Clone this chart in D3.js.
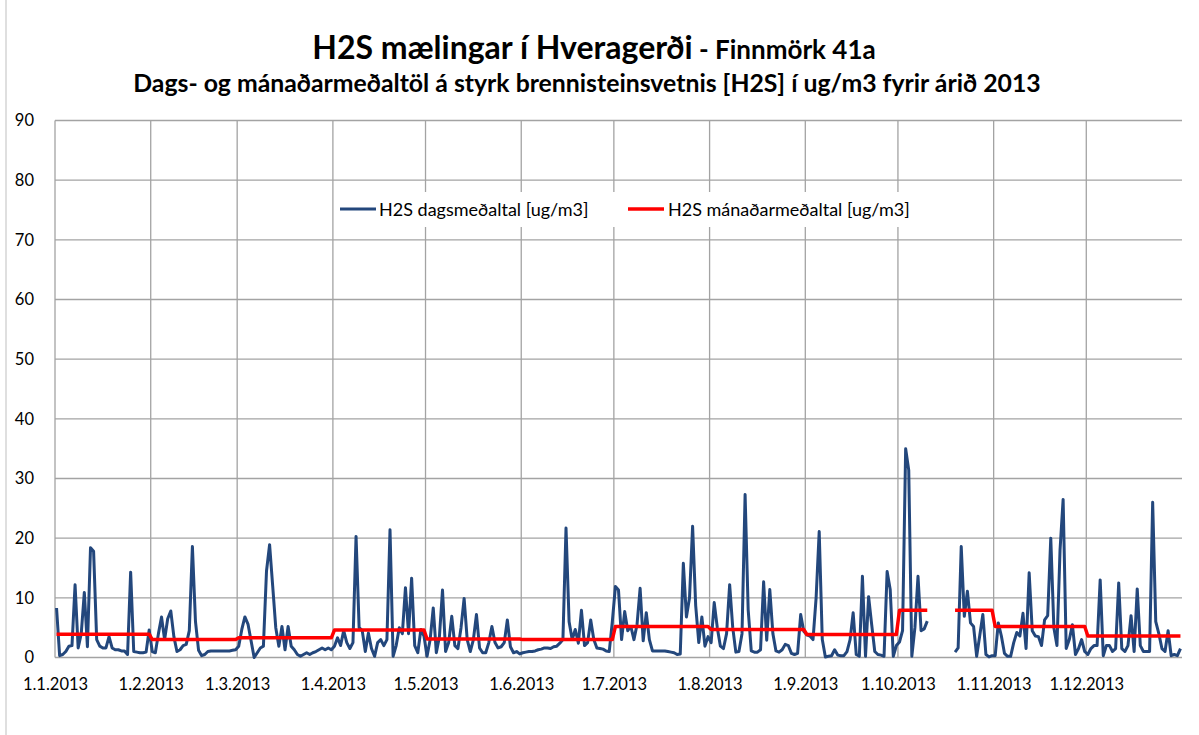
<!DOCTYPE html>
<html>
<head>
<meta charset="utf-8">
<script src="https://cdn.jsdelivr.net/npm/d3@7/dist/d3.min.js"></script>
<style>
  body { margin: 0; background: #fff; }
  svg { display: block; }
  text { font-family: Lato, "Open Sans", sans-serif; fill: #000; }
</style>
</head>
<body>
<svg id="chart" width="1199" height="735"></svg>
<script>
/* --- data: daily means per month (null = no measurement) ------------- */
const jan = [8.3, 0.3, 0.5, 1.0, 1.9, 2.0, 12.2, 1.6, 4.0, 10.9, 1.8, 18.4, 17.8, 3.0, 1.9, 1.6,
             1.6, 3.5, 1.6, 1.3, 1.3, 1.1, 1.1, 0.5, 14.3, 1.0, 0.9, 0.8, 0.8, 0.9, 4.6];
const feb = [1.0, 0.8, 4.0, 6.8, 3.0, 6.5, 7.8, 3.5, 1.0, 1.3, 2.0, 2.2, 4.5, 18.6, 6.0, 1.2,
             0.3, 0.5, 1.0, 1.1, 1.1, 1.1, 1.1, 1.1, 1.1, 1.1, 1.2, 1.3];
const mar = [1.9, 4.7, 6.8, 5.6, 2.8, 0.0, 0.8, 1.6, 1.9, 14.5, 18.9, 12.0, 5.0, 1.9, 5.2, 1.3,
             5.2, 1.9, 1.3, 0.5, 0.2, 0.5, 0.8, 0.5, 0.8, 1.0, 1.3, 1.6, 1.3, 1.6, 1.3];
const apr = [1.9, 3.3, 2.0, 4.5, 2.5, 1.5, 2.5, 20.3, 5.0, 4.5, 1.0, 4.1, 1.5, 0.2, 2.5,
             3.0, 2.0, 3.0, 21.4, 0.2, 2.0, 5.0, 4.0, 11.7, 4.0, 13.3, 2.0, 0.8, 4.7, 3.6];
const may = [0.2, 3.0, 8.3, 0.8, 3.5, 11.3, 1.0, 2.5, 6.9, 2.0, 1.5, 5.0, 9.9, 3.0, 1.0, 3.0,
             7.2, 1.6, 0.8, 0.8, 2.5, 5.2, 2.5, 1.6, 1.8, 2.5, 6.3, 1.8, 0.8, 1.0, 0.6];
const jun = [0.8, 0.9, 1.0, 1.0, 1.1, 1.3, 1.4, 1.6, 1.6, 1.5, 1.8, 1.9, 2.4, 3.0, 21.7,
             6.0, 3.0, 4.7, 2.4, 7.9, 2.0, 2.5, 6.3, 3.0, 1.6, 1.5, 1.4, 1.1, 1.0, 6.0];
const jul = [11.9, 11.3, 3.0, 7.7, 4.5, 5.2, 3.0, 5.5, 11.6, 2.8, 7.5, 3.0, 1.1, 1.1, 1.1, 1.1,
             1.1, 1.0, 0.9, 0.8, 0.5, 0.6, 15.8, 6.8, 10.0, 22.0, 8.7, 2.5, 6.8, 1.9, 3.5];
const aug = [2.5, 9.2, 5.0, 1.9, 1.5, 4.0, 12.2, 5.0, 0.9, 1.0, 4.0, 27.3, 8.0, 1.1, 0.9, 0.9,
             1.3, 12.7, 2.9, 11.4, 4.0, 1.1, 0.9, 1.3, 2.2, 2.0, 0.7, 0.5, 0.7, 7.2, 4.4];
const sep = [3.8, 3.6, 3.0, 10.0, 21.1, 3.0, 0.1, 0.2, 0.3, 1.3, 0.4, 0.3, 0.3, 1.0, 3.0,
             7.5, 0.5, 0.2, 13.6, 0.2, 10.2, 5.5, 1.0, 0.5, 0.4, 0.2, 14.4, 11.4, 0.2, 2.0];
const oct = [2.6, 4.5, 35.0, 31.4, 0.2, 5.0, 13.6, 4.5, 4.8, 6.1,
             null, null, null, null, null, null, null, null,
             0.9, 1.6, 18.6, 6.9, 11.1, 5.8, 5.2, 0.2, 3.7, 7.2, 0.5, 0.1, 0.3];
const nov = [0.3, 5.8, 3.6, 0.7, 0.2, 0.2, 2.5, 4.2, 3.6, 7.4, 1.5, 14.2, 4.5, 3.6, 3.5,
             2.0, 6.3, 7.0, 20.0, 5.0, 2.0, 18.0, 26.5, 1.5, 3.0, 5.5, 0.5, 1.5, 3.0, 1.0];
const dec = [0.5, 1.5, 2.0, 2.0, 13.0, 0.3, 2.0, 2.0, 1.0, 1.5, 12.5, 1.5, 1.0, 2.0, 7.0, 1.0,
             11.5, 2.0, 1.0, 1.0, 1.0, 26.0, 6.0, 4.0, 1.5, 1.0, 4.5, 0.3, 0.5, 0.3, 1.5];

const months = [jan, feb, mar, apr, may, jun, jul, aug, sep, oct, nov, dec];
const monthlyMeans = [3.9, 3.0, 3.3, 4.6, 3.1, 3.0, 5.2, 4.7, 3.85, 7.9, 5.2, 3.6];
const yTicks = [0, 10, 20, 30, 40, 50, 60, 70, 80, 90];
const monthLabels = ['1.1.2013', '1.2.2013', '1.3.2013', '1.4.2013', '1.5.2013', '1.6.2013',
                     '1.7.2013', '1.8.2013', '1.9.2013', '1.10.2013', '1.11.2013', '1.12.2013'];

/* --- rows: one per day, points at midday ------------------------------ */
const rows = [];
months.forEach(function (vals, m) {
  vals.forEach(function (v, i) {
    rows.push({
      date: new Date(2013, m, i + 1, 12),
      daily: v,
      monthly: v == null ? null : monthlyMeans[m]
    });
  });
});
const monthStarts = d3.range(12).map(function (m) { return new Date(2013, m, 1); });

/* --- layout ------------------------------------------------------------ */
const L = 55, R = 1182, T = 120.5, B = 657.5;
const blue = '#23477c', red = '#ff0000', grid = '#a3a3a3';

const svg = d3.select('#chart');
const x = d3.scaleTime().domain([new Date(2013, 0, 1), new Date(2014, 0, 1)]).range([L, R]);
const y = d3.scaleLinear().domain([0, 90]).range([B, T]);

/* outer frame of the chart object */
svg.append('line').attr('x1', 6).attr('x2', 6).attr('y1', 0).attr('y2', 735)
  .attr('stroke', '#bfbfbf').attr('stroke-width', 1);

/* --- grid -------------------------------------------------------------- */
const g = svg.append('g');
g.selectAll('.hg').data(yTicks).join('line')
  .attr('x1', L).attr('x2', R)
  .attr('y1', function (d) { return y(d); }).attr('y2', function (d) { return y(d); })
  .attr('stroke', grid).attr('stroke-width', 1.3);
g.selectAll('.vg').data(monthStarts).join('line')
  .attr('x1', function (d) { return x(d); }).attr('x2', function (d) { return x(d); })
  .attr('y1', T).attr('y2', B)
  .attr('stroke', grid).attr('stroke-width', 1.3);

/* --- axes labels ------------------------------------------------------- */
svg.append('g').attr('transform', 'translate(34,0)')
  .call(d3.axisLeft(y).tickValues(yTicks).tickSize(0).tickPadding(0))
  .call(function (a) { a.select('.domain').remove(); })
  .selectAll('text').style('font-family', 'Lato, sans-serif').style('font-size', '16.5px').attr('fill', '#000');

svg.append('g').attr('transform', 'translate(0,' + (B + 21) + ')')
  .call(d3.axisBottom(x).tickValues(monthStarts).tickSize(0).tickPadding(0)
    .tickFormat(function (d, i) { return monthLabels[i]; }))
  .call(function (a) { a.select('.domain').remove(); })
  .selectAll('text').style('font-family', 'Lato, sans-serif').style('font-size', '16.5px').attr('fill', '#000');

/* --- legend (white box over the grid) ---------------------------------- */
const lg = svg.append('g');
lg.append('rect').attr('x', 335).attr('y', 192).attr('width', 588).attr('height', 35).attr('fill', '#fff');
lg.append('line').attr('x1', 340).attr('x2', 376).attr('y1', 209).attr('y2', 209)
  .attr('stroke', blue).attr('stroke-width', 3);
lg.append('text').attr('x', 379).attr('y', 215.5).style('font-size', '18px')
  .text('H2S dagsmeðaltal [ug/m3]');
lg.append('line').attr('x1', 628).attr('x2', 664).attr('y1', 209).attr('y2', 209)
  .attr('stroke', red).attr('stroke-width', 3.5);
lg.append('text').attr('x', 668).attr('y', 215.5).style('font-size', '18px')
  .text('H2S mánaðarmeðaltal [ug/m3]');

/* --- series ------------------------------------------------------------ */
const dailyLine = d3.line()
  .defined(function (d) { return d.daily != null; })
  .x(function (d) { return x(d.date); })
  .y(function (d) { return y(d.daily); });
const monthlyLine = d3.line()
  .defined(function (d) { return d.monthly != null; })
  .x(function (d) { return x(d.date); })
  .y(function (d) { return y(d.monthly); });

svg.append('path').datum(rows).attr('d', dailyLine)
  .attr('fill', 'none').attr('stroke', blue).attr('stroke-width', 3)
  .attr('stroke-linejoin', 'round');
svg.append('path').datum(rows).attr('d', monthlyLine)
  .attr('fill', 'none').attr('stroke', red).attr('stroke-width', 3.5)
  .attr('stroke-linejoin', 'round');

/* --- titles ------------------------------------------------------------ */
const t1 = svg.append('text').attr('x', 594).attr('y', 59).attr('text-anchor', 'middle')
  .style('font-weight', 'bold');
t1.append('tspan').style('font-size', '32px').text('H2S mælingar í Hveragerði');
t1.append('tspan').style('font-size', '26px').text(' - Finnmörk 41a');
svg.append('text').attr('x', 587).attr('y', 92).attr('text-anchor', 'middle')
  .style('font-weight', 'bold').style('font-size', '24.8px')
  .text('Dags- og mánaðarmeðaltöl á styrk brennisteinsvetnis [H2S] í ug/m3 fyrir árið 2013');
</script>
</body>
</html>
